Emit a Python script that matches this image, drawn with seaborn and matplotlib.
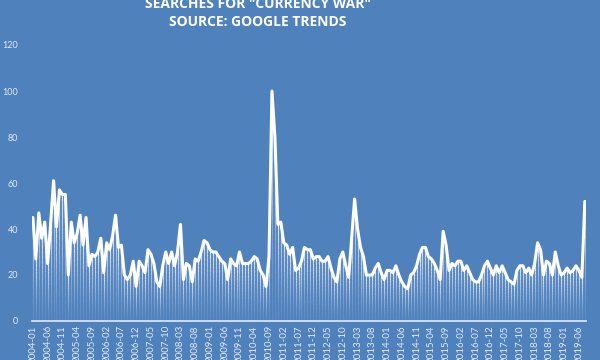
import numpy as np
import pandas as pd
import matplotlib
matplotlib.use("Agg")
import matplotlib.pyplot as plt
import seaborn as sns
from matplotlib.collections import LineCollection

# ---- data (monthly Google Trends index, 2004-01 .. 2019-08) ----
start_month = "2004-01"
values = [
    45, 27, 47, 36, 43, 25, 42, 61, 41, 57, 55, 55, 20, 43, 34, 38, 46, 33, 45, 24,
    29, 28, 30, 36, 21, 34, 31, 37, 46, 32, 33, 20, 18, 20, 26, 15, 26, 24, 21, 31,
    29, 25, 17, 15, 24, 30, 25, 30, 24, 30, 42, 18, 25, 24, 17, 27, 26, 30, 35, 34,
    31, 30, 30, 28, 26, 25, 18, 27, 25, 24, 30, 25, 25, 25, 26, 28, 27, 22, 20, 15,
    28, 100, 80, 42, 43, 34, 33, 29, 32, 22, 23, 26, 32, 31, 31, 27, 28, 28, 26, 26,
    28, 23, 19, 17, 27, 30, 24, 19, 36, 53, 40, 32, 28, 20, 20, 20, 23, 25, 21, 18,
    22, 22, 21, 24, 20, 17, 15, 14, 20, 21, 24, 29, 32, 32, 28, 27, 25, 22, 18, 39,
    33, 22, 25, 24, 26, 26, 22, 24, 21, 18, 17, 17, 20, 24, 26, 23, 20, 24, 21, 24,
    21, 18, 17, 16, 22, 24, 24, 21, 23, 20, 25, 34, 31, 20, 26, 25, 20, 30, 24, 20,
    21, 23, 21, 22, 24, 22, 19, 52,
]
months = pd.date_range(start_month, periods=len(values), freq="MS").strftime("%Y-%m").tolist()
tick_step = 5
y_ticks = [0, 20, 40, 60, 80, 100, 120]
title_lines = ['SEARCHES FOR "CURRENCY WAR"', "SOURCE: GOOGLE TRENDS"]

df = pd.DataFrame({"idx": np.arange(len(values)), "month": months, "value": values})

BG = "#4F81BD"
sns.set_theme(style="white")
plt.rcParams["font.family"] = ["Lato", "DejaVu Sans"]

fig = plt.figure(figsize=(6, 3.6), dpi=100, facecolor=BG)
ax = fig.add_axes([32 / 600, 1 - 321 / 360, (586 - 32) / 600, (321 - 45) / 360])
ax.set_facecolor(BG)

# gradient drop lines (faint at the bottom, bright at the top)
nseg = 16
segs, cols = [], []
for x, y in zip(df["idx"], df["value"]):
    fr = np.linspace(0, 1, nseg + 1)
    for k in range(nseg):
        segs.append([(x, y * fr[k]), (x, y * fr[k + 1])])
        a = 0.06 + 0.8 * ((k + 0.5) / nseg) ** 1.3
        cols.append((1, 1, 1, a))
ax.add_collection(LineCollection(segs, colors=cols, linewidths=0.9, zorder=2))

sns.lineplot(data=df, x="idx", y="value", ax=ax, color="white", linewidth=2.2,
             zorder=3, solid_joinstyle="round", solid_capstyle="round")

ax.set_xlim(-0.3, len(values) - 0.6)
ax.set_ylim(0, 120)
ax.set_xlabel("")
ax.set_ylabel("")

ticks = list(range(0, len(values), tick_step))
ax.set_xticks(ticks)
ax.set_xticklabels([months[i] for i in ticks], rotation=90, fontsize=7,
                   color="#E4EBF5", va="top")
ax.set_yticks(y_ticks)
ax.set_yticklabels([str(t) for t in y_ticks], fontsize=6.5, color="#E4EBF5")
ax.tick_params(axis="x", length=0, pad=3)
ax.tick_params(axis="y", length=0, pad=10)

for s in ["top", "right", "left"]:
    ax.spines[s].set_visible(False)
ax.spines["bottom"].set_color("#D9E3F1")
ax.spines["bottom"].set_linewidth(1.3)
ax.spines["bottom"].set_zorder(4)

title_font = ["Open Sans", "DejaVu Sans"]
fig.text(258 / 600, 1 - 4 / 360, title_lines[0], ha="center", va="center",
         color="white", fontsize=10, fontweight="bold", family=title_font)
fig.text(258 / 600, 1 - 22 / 360, title_lines[1], ha="center", va="center",
         color="white", fontsize=10, fontweight="bold", family=title_font)

fig.savefig("out.png", dpi=100, facecolor=BG)
